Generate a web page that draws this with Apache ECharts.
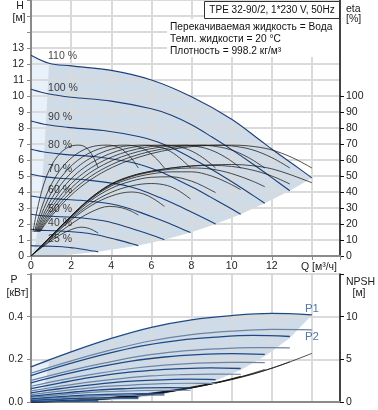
<!DOCTYPE html>
<html><head><meta charset="utf-8">
<script src="https://cdn.jsdelivr.net/npm/echarts@6/dist/echarts.min.js"></script>
<style>html,body{margin:0;padding:0;background:#fff}#c{width:378px;height:410px}</style>
</head><body><div id="c"></div>
<script>
// ---------- DATA ----------
const speedLabels = ['110 %','100 %','90 %','80 %','70 %','60 %','50 %','40 %','25 %'];
const speedLabelPos = [[0.85,12.5],[0.85,10.47],[0.85,8.66],[0.85,6.9],[0.85,5.41],[0.85,4.09],[0.85,2.94],[0.85,2.03],[0.85,1.03]];
const xTickLabels = [0,2,4,6,8,10,12];
const etaTickLabels = [0,10,20,30,40,50,60,70,80,90,100];

// Head curves H [m] vs Q [m3/h]
const head110 = [[0,12.55],[0.9,12.05],[2,11.88],[4,11.6],[6,11.0],[8,9.95],[10,8.55],[11.45,7.2],[12.2,6.5],[13.1,5.7],[14,4.88]];
const head100 = [[0,10.42],[0.9,10.12],[2,9.92],[4,9.68],[6,9.2],[7,8.8],[8,8.2],[9,7.45],[10,6.65],[11,5.8],[12,4.9],[12.9,4.08]];
const head90 = [[0,8.44],[0.81,8.2],[1.81,8.04],[3.61,7.84],[5.42,7.45],[6.32,7.13],[7.22,6.64],[8.13,6.03],[9.03,5.39],[9.93,4.7],[10.84,3.97],[11.65,3.3]];
const head80 = [[0,6.67],[0.73,6.48],[1.62,6.35],[3.24,6.2],[4.86,5.89],[5.67,5.63],[6.48,5.25],[7.29,4.77],[8.1,4.26],[8.91,3.71],[9.72,3.14],[10.45,2.61]];
const head70 = [[0,5.11],[0.64,4.96],[1.43,4.86],[2.85,4.74],[4.28,4.51],[4.99,4.31],[5.7,4.02],[6.42,3.65],[7.13,3.26],[7.84,2.84],[8.56,2.4],[9.2,2.0]];
const head60 = [[0,3.75],[0.55,3.64],[1.23,3.57],[2.46,3.48],[3.7,3.31],[4.31,3.17],[4.93,2.95],[5.54,2.68],[6.16,2.39],[6.78,2.09],[7.39,1.76],[7.95,1.47]];
const head50 = [[0,2.61],[0.46,2.53],[1.03,2.48],[2.06,2.42],[3.1,2.3],[3.61,2.2],[4.13,2.05],[4.64,1.86],[5.16,1.66],[5.68,1.45],[6.19,1.23],[6.65,1.02]];
const head40 = [[0,1.67],[0.37,1.62],[0.83,1.59],[1.66,1.55],[2.49,1.47],[2.9,1.41],[3.32,1.31],[3.73,1.19],[4.15,1.06],[4.56,0.93],[4.98,0.78],[5.35,0.65]];
const head25 = [[0,0.65],[0.23,0.63],[0.52,0.62],[1.04,0.61],[1.56,0.58],[1.82,0.55],[2.08,0.51],[2.34,0.47],[2.6,0.42],[2.86,0.36],[3.12,0.31],[3.35,0.26]];
const headCurves = [head110,head100,head90,head80,head70,head60,head50,head40,head25];

// Operating area (shaded) lower edge and min-flow strip
const areaLowerEdge = [[14,4.88],[12.9,4.08],[11.65,3.3],[10.45,2.61],[9.2,2.0],[7.95,1.47],[6.65,1.02],[5.35,0.65],[3.35,0.26],[2,0.1],[1,0.03],[0,0]];
const minFlowStrip = [[0,0],[0,12.55],[0.9,12.05],[0.8,9.6],[0.68,7],[0.58,5],[0.45,3],[0.32,1.5],[0.18,0.5],[0,0]];

// Hydraulic efficiency eta [%] (same values, flow positions per speed)
const etaHydValues = [15,26,40,50,57,62,65.5,67.8,69,69.3,68.8,66.5,61.5,55];
const etaHydQ110 = [0.43,1.09,2.17,3.26,4.34,5.43,6.51,7.6,8.68,9.98,10.85,11.94,13.02,14];
const etaHydQ100 = [0.4,1,2,3,4,5,6,7,8,9.2,10,11,12,12.9];
const etaHydQ90 = [0.36,0.9,1.81,2.71,3.61,4.52,5.42,6.32,7.22,8.31,9.03,9.93,10.84,11.65];
const etaHydQ80 = [0.32,0.81,1.62,2.43,3.24,4.05,4.86,5.67,6.48,7.45,8.1,8.91,9.72,10.45];
const etaHydQ70 = [0.29,0.71,1.43,2.14,2.85,3.57,4.28,4.99,5.7,6.56,7.13,7.84,8.56,9.2];
const etaHydQ60 = [0.25,0.62,1.23,1.85,2.46,3.08,3.7,4.31,4.93,5.67,6.16,6.78,7.39,7.95];
const etaHydQ50 = [0.21,0.52,1.03,1.55,2.06,2.58,3.1,3.61,4.13,4.75,5.16,5.68,6.19,6.65];
const etaHydQ40 = [0.17,0.42,0.83,1.25,1.66,2.08,2.49,2.9,3.32,3.82,4.15,4.56,4.98,5.35];
const etaHydQ25 = [0.1,0.26,0.52,0.78,1.04,1.3,1.56,1.82,2.08,2.39,2.6,2.86,3.12,3.35];
const etaHydQ = [etaHydQ110,etaHydQ100,etaHydQ90,etaHydQ80,etaHydQ70,etaHydQ60,etaHydQ50,etaHydQ40,etaHydQ25];

// Total efficiency eta [%]
const etaTot110 = [[0,0],[1,12.5],[2,25],[3,36.5],[4,45],[5,50],[6,53],[7,55],[8,56.3],[9,57],[10,57.2],[11,56.5],[12,54.5],[13,50.5],[14,45.8]];
const etaTot100 = [[0,0],[1,12.5],[2,25],[3,36.5],[4,45],[5,50],[6,53],[7,55],[8,56.2],[9,56.6],[10,56],[11,53.8],[12,50],[12.9,45]];
const etaTot90 = [[0,0],[1,12.5],[2,25],[3,36.2],[4,44.5],[5,49.5],[6,52.5],[7,54.3],[8,55],[9,54.3],[10,51.5],[11,47],[11.65,43.3]];
const etaTot80 = [[0,0],[1,12.5],[2,24.8],[3,35.8],[4,43.8],[5,48.5],[6,51.3],[7,52.6],[8,52.6],[9,50],[9.8,45.8],[10.45,41.5]];
const etaTot70 = [[0,0],[1,12.3],[2,24.3],[3,34.8],[4,42.3],[5,46.8],[6,49.2],[7,49.5],[8,46.8],[8.6,43.5],[9.2,39.6]];
const etaTot60 = [[0,0],[1,12],[2,23.5],[3,33],[4,39.8],[5,43.8],[6,45.3],[6.8,44],[7.4,40.5],[7.95,35.6]];
const etaTot50 = [[0,0],[1,11.5],[2,22.5],[3,31.5],[4,37.5],[5,40],[5.6,38.8],[6.1,35.8],[6.65,31]];
const etaTot40 = [[0,0],[1,10.5],[2,20],[3,27.5],[3.9,31],[4.5,30.2],[5,28],[5.35,25.6]];
const etaTot25 = [[0,0],[0.5,5],[1,9.5],[1.5,13.5],[2,16.5],[2.5,18],[2.9,17.2],[3.35,14.3]];
const etaTotCurves = [etaTot110,etaTot100,etaTot90,etaTot80,etaTot70,etaTot60,etaTot50,etaTot40,etaTot25];

// Lower chart: flow points per speed
const pQ110 = [0,2,4,6,8,10,12,14];
const pQ100 = [0,1.84,3.69,5.53,7.37,9.21,11.06,12.9];
const pQ90 = [0,1.66,3.33,4.99,6.66,8.32,9.99,11.65];
const pQ80 = [0,1.49,2.99,4.48,5.97,7.46,8.96,10.45];
const pQ70 = [0,1.31,2.63,3.94,5.26,6.57,7.89,9.2];
const pQ60 = [0,1.14,2.27,3.41,4.54,5.68,6.81,7.95];
const pQ50 = [0,0.95,1.9,2.85,3.8,4.75,5.7,6.65];
const pQ40 = [0,0.76,1.53,2.29,3.06,3.82,4.59,5.35];
const pQ25 = [0,0.48,0.96,1.44,1.91,2.39,2.87,3.35];
const pQ = [pQ110,pQ100,pQ90,pQ80,pQ70,pQ60,pQ50,pQ40,pQ25];

// P1 [kW]
const p1_110 = [0.165,0.235,0.298,0.35,0.385,0.405,0.415,0.408];
const p1_100 = [0.124,0.177,0.224,0.263,0.289,0.304,0.312,0.307];
const p1_90 = [0.090,0.129,0.163,0.192,0.211,0.222,0.227,0.223];
const p1_80 = [0.063,0.090,0.115,0.135,0.148,0.156,0.160,0.157];
const p1_70 = [0.043,0.061,0.077,0.090,0.099,0.104,0.107,0.105];
const p1_60 = [0.027,0.038,0.048,0.057,0.062,0.066,0.067,0.066];
const p1_50 = [0.015,0.022,0.028,0.033,0.036,0.038,0.039,0.038];
const p1_40 = [0.008,0.011,0.014,0.017,0.019,0.019,0.020,0.020];
const p1_25 = [0.002,0.003,0.0035,0.004,0.0045,0.0048,0.0049,0.0048];
const p1 = [p1_110,p1_100,p1_90,p1_80,p1_70,p1_60,p1_50,p1_40,p1_25];
// P2 [kW]
const p2_110 = [0.135,0.193,0.244,0.287,0.316,0.332,0.34,0.338];
const p2_100 = [0.101,0.145,0.183,0.216,0.237,0.249,0.255,0.254];
const p2_90 = [0.074,0.106,0.134,0.157,0.173,0.182,0.186,0.185];
const p2_80 = [0.052,0.074,0.094,0.110,0.122,0.128,0.131,0.130];
const p2_70 = [0.035,0.050,0.063,0.074,0.081,0.086,0.088,0.087];
const p2_60 = [0.022,0.031,0.040,0.047,0.051,0.054,0.055,0.055];
const p2_50 = [0.013,0.018,0.023,0.027,0.030,0.031,0.032,0.032];
const p2_40 = [0.006,0.009,0.012,0.014,0.015,0.016,0.016,0.016];
const p2_25 = [0.002,0.002,0.003,0.003,0.004,0.004,0.004,0.004];
const p2 = [p2_110,p2_100,p2_90,p2_80,p2_70,p2_60,p2_50,p2_40,p2_25];
// NPSH [m]
const npsh110 = [0,0.2,0.55,1.05,1.75,2.7,3.95,5.7];
const npsh100 = [0,0.17,0.45,0.87,1.45,2.23,3.26,4.71];
const npsh90 = [0,0.13,0.37,0.70,1.17,1.81,2.64,3.81];
const npsh80 = [0,0.11,0.29,0.56,0.93,1.43,2.09,3.02];
const npsh70 = [0,0.08,0.22,0.43,0.71,1.09,1.60,2.31];
const npsh60 = [0,0.06,0.16,0.31,0.52,0.80,1.18,1.70];
const npsh50 = [0,0.04,0.11,0.22,0.36,0.56,0.82,1.18];
const npsh40 = [0,0.03,0.07,0.14,0.23,0.36,0.52,0.75];
const npsh25 = [0,0.01,0.03,0.05,0.09,0.14,0.2,0.29];
const npsh = [npsh110,npsh100,npsh90,npsh80,npsh70,npsh60,npsh50,npsh40,npsh25];

const powerLowerEdge = [[14,0.408],[12.9,0.3],[11.65,0.215],[10.45,0.15],[9.2,0.1],[7.95,0.063],[6.65,0.037],[5.35,0.02],[3.35,0.005],[0,0]];
const powerMinStrip = [[0,0],[0,0.165],[0.9,0.187],[0.8,0.13],[0.7,0.087],[0.6,0.055],[0.5,0.032],[0.35,0.011],[0,0]];
const powerLabels = ['P1','P2'];
const powerLabelPos = [[14,0.438],[14,0.306]];

// ---------- CHART ----------
const FONT = '"Liberation Sans", Arial, sans-serif';
const headColor = '#1b3f7a';
const etaColor = 'rgba(25,25,25,0.85)';
const shadeColor = '#cfdbe7';
const shadeLight = '#e8f0f9';
const gridColor = '#dadada';
const axisGray = '#8a8a8a';

const chart = echarts.init(document.getElementById('c'), null, {renderer:'canvas'});

function polySeries(xi, yi, pts, color, z2) {
  return {type:'custom', xAxisIndex:xi, yAxisIndex:yi, z:0, silent:true, clip:false, data:[[0,0]],
    renderItem:(params, api) => ({type:'polygon', z2:z2, shape:{points: pts.map(p => api.coord(p))}, style:{fill:color}})};
}
function lineSeries(xi, yi, data, color, width, z) {
  return {type:'line', xAxisIndex:xi, yAxisIndex:yi, data:data, symbol:'none', showSymbol:false,
    smooth:0.35, lineStyle:{color:color, width:width}, z:z, silent:true};
}

const series = [];
series.push(polySeries(0,0, head110.concat(areaLowerEdge), shadeColor, 0));
series.push(polySeries(0,0, minFlowStrip, shadeLight, 1));
series.push(polySeries(1,2, pQ110.map((q,i)=>[q,p1_110[i]]).concat(powerLowerEdge), shadeColor, 0));
series.push(polySeries(1,2, powerMinStrip, shadeLight, 1));

headCurves.forEach(c => series.push(lineSeries(0,0,c,headColor,1.1,3)));
etaHydQ.forEach(qs => series.push(lineSeries(0,1, qs.map((q,i)=>[q,etaHydValues[i]]), etaColor, 0.9, 4)));
etaTotCurves.forEach(c => series.push(lineSeries(0,1,c,etaColor,0.9,4)));

pQ.forEach((qs,k) => {
  series.push(lineSeries(1,3, qs.map((q,i)=>[q,npsh[k][i]]), 'rgba(20,20,20,0.85)', 0.9, 3));
  series.push(lineSeries(1,2, qs.map((q,i)=>[q,p2[k][i]]), '#6d84a5', 1.2, 4));
  series.push(lineSeries(1,2, qs.map((q,i)=>[q,p1[k][i]]), '#1d4a86', 1.3, 5));
});

series.push({type:'scatter', xAxisIndex:0, yAxisIndex:0, symbolSize:0, z:10, silent:true,
  data: speedLabelPos.map((p,i)=>({value:p, label:{formatter:speedLabels[i]}})),
  label:{show:true, position:'right', distance:0, color:'#111', fontSize:10.5, fontFamily:FONT}});
series.push({type:'scatter', xAxisIndex:1, yAxisIndex:2, symbolSize:0, z:10, silent:true,
  data: powerLabelPos.map((p,i)=>({value:p, label:{formatter:powerLabels[i]}})),
  label:{show:true, position:'inside', color:'#2a5694', fontSize:11.5, fontFamily:FONT}});

const lbl = {color:'#222', fontSize:10.5, fontFamily:FONT};
function xAxisDef(gi, showLabels) {
  return {type:'value', gridIndex:gi, min:0, max:15.4, interval:2, z:1,
    axisLine:{show:true, onZero:false, lineStyle:{color:axisGray, width:2}},
    axisTick:{show:showLabels, length:4, lineStyle:{color:axisGray}},
    axisLabel: showLabels ? Object.assign({customValues:xTickLabels, margin:5}, lbl) : {show:false},
    splitLine:{show:true, lineStyle:{color:gridColor, width:2}}};
}
const F = sz => sz + 'px ' + FONT;

chart.setOption({
  animation:false,
  backgroundColor:'#fff',
  grid:[
    {left:31, top:0, width:309, height:256, show:false},
    {left:31, top:274, width:309, height:128, show:true, borderColor:'#000', borderWidth:1, backgroundColor:'transparent'}
  ],
  xAxis:[xAxisDef(0,true), xAxisDef(1,false)],
  yAxis:[
    {type:'value', gridIndex:0, min:0, max:16, interval:1, position:'left', z:1,
      axisLine:{show:true, onZero:false, lineStyle:{color:axisGray, width:2}},
      axisTick:{show:true, length:4, lineStyle:{color:axisGray}},
      axisLabel:Object.assign({margin:7, formatter:v => v > 13 ? '' : String(v)}, lbl),
      splitLine:{show:true, lineStyle:{color:gridColor, width:2}}},
    {type:'value', gridIndex:0, min:0, max:160, interval:10, position:'right', z:1,
      axisLine:{show:true, onZero:false, lineStyle:{color:'#111', width:1.5}},
      axisTick:{show:true, length:4, customValues:etaTickLabels, lineStyle:{color:'#111'}},
      axisLabel:Object.assign({margin:6, customValues:etaTickLabels}, lbl),
      splitLine:{show:false}},
    {type:'value', gridIndex:1, min:0, max:0.6, interval:0.2, position:'left', z:1,
      axisLine:{show:true, onZero:false, lineStyle:{color:axisGray, width:2}},
      axisTick:{show:true, length:4, lineStyle:{color:axisGray}},
      axisLabel:Object.assign({margin:8, formatter:v => v > 0.5 ? '' : v.toFixed(1)}, lbl),
      splitLine:{show:true, lineStyle:{color:gridColor, width:2}}},
    {type:'value', gridIndex:1, min:0, max:15, interval:5, position:'right', z:1,
      axisLine:{show:true, onZero:false, lineStyle:{color:'#111', width:1.5}},
      axisTick:{show:true, length:4, lineStyle:{color:'#111'}},
      axisLabel:Object.assign({margin:6, formatter:v => v > 12 ? '' : String(v)}, lbl),
      splitLine:{show:false}}
  ],
  graphic:[
    {type:'rect', shape:{x:167, y:19, width:172, height:38}, style:{fill:'#fff'}, z:50},
    {type:'rect', shape:{x:204.5, y:1.5, width:135, height:17}, style:{fill:'#fff', stroke:'#333', lineWidth:1}, z:50},
    {type:'text', x:272, y:10.5, z:51, style:{text:'TPE 32-90/2, 1*230 V, 50Hz', align:'center', verticalAlign:'middle', font:F(10), fill:'#111'}},
    {type:'text', x:170, y:27, z:51, style:{text:'Перекачиваемая жидкость = Вода', align:'left', verticalAlign:'middle', font:F(10.2), fill:'#111'}},
    {type:'text', x:170, y:39, z:51, style:{text:'Темп. жидкости = 20 °C', align:'left', verticalAlign:'middle', font:F(10.2), fill:'#111'}},
    {type:'text', x:170, y:51, z:51, style:{text:'Плотность = 998.2 кг/м³', align:'left', verticalAlign:'middle', font:F(10.2), fill:'#111'}},
    {type:'text', x:20, y:6, z:51, style:{text:'H', align:'center', verticalAlign:'middle', font:F(10.5), fill:'#222'}},
    {type:'text', x:19, y:18.5, z:51, style:{text:'[м]', align:'center', verticalAlign:'middle', font:F(10.5), fill:'#222'}},
    {type:'text', x:346, y:9, z:51, style:{text:'eta', align:'left', verticalAlign:'middle', font:F(10.5), fill:'#222'}},
    {type:'text', x:346, y:19.5, z:51, style:{text:'[%]', align:'left', verticalAlign:'middle', font:F(10.5), fill:'#222'}},
    {type:'text', x:319, y:267, z:51, style:{text:'Q [м³/ч]', align:'center', verticalAlign:'middle', font:F(10.5), fill:'#222'}},
    {type:'text', x:14, y:280, z:51, style:{text:'P', align:'center', verticalAlign:'middle', font:F(10.5), fill:'#222'}},
    {type:'text', x:17.5, y:293.5, z:51, style:{text:'[кВт]', align:'center', verticalAlign:'middle', font:F(10.5), fill:'#222'}},
    {type:'text', x:346, y:282, z:51, style:{text:'NPSH', align:'left', verticalAlign:'middle', font:F(10.5), fill:'#222'}},
    {type:'text', x:359, y:293.5, z:51, style:{text:'[м]', align:'center', verticalAlign:'middle', font:F(10.5), fill:'#222'}}
  ],
  series: series
});
</script>
</body></html>
